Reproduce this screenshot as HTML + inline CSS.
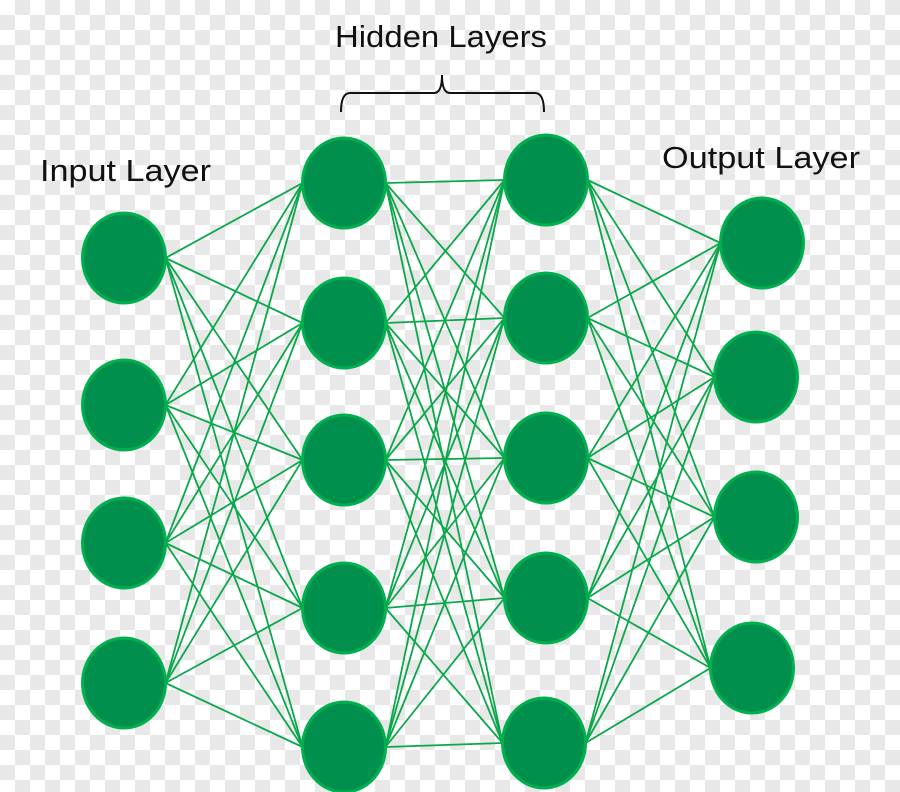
<!DOCTYPE html>
<html><head><meta charset="utf-8"><style>
html,body{margin:0;padding:0}
body{width:900px;height:792px;overflow:hidden;background-color:#fff;
background-image:linear-gradient(45deg,#e8e8e8 25%,transparent 25%,transparent 75%,#e8e8e8 75%),linear-gradient(45deg,#e8e8e8 25%,transparent 25%,transparent 75%,#e8e8e8 75%);
background-size:30px 30px;background-position:0 0,15px 15px}
</style></head><body>
<svg width="900" height="792" xmlns="http://www.w3.org/2000/svg" style="position:absolute;left:0;top:0">
<g id="lines" stroke="#0aa84a" stroke-width="1.8"></g>
<g id="nodes" fill="#008f4c" stroke="#00b04f" stroke-width="3"></g>
<g font-family="Liberation Sans, sans-serif" font-size="31" fill="#111">
<text x="335" y="47" textLength="212" lengthAdjust="spacingAndGlyphs">Hidden Layers</text>
<text x="40" y="181" textLength="171" lengthAdjust="spacingAndGlyphs">Input Layer</text>
<text x="662" y="168" textLength="198" lengthAdjust="spacingAndGlyphs">Output Layer</text>
</g>
<path d="M341,112 Q341,93 350,93 L434,93 Q442,93 442,75 Q442,93 450,93 L535,93 Q544,93 544,112" fill="none" stroke="#111" stroke-width="2"/>
</svg>
<script>
var L=[[[124,258],[124,405],[124,543],[124,683]],
[[344,183],[344,323],[344,460],[344,608],[344,747]],
[[546,180],[546,318],[546,458],[546,598],[544,743]],
[[762,243],[756,377],[756,517],[752,668]]];
var rx=41.5,ry=45,ns="http://www.w3.org/2000/svg";
var lg=document.getElementById('lines'),ng=document.getElementById('nodes');
for(var i=0;i<3;i++)for(var a of L[i])for(var b of L[i+1]){var l=document.createElementNS(ns,'line');
l.setAttribute('x1',a[0]+rx);l.setAttribute('y1',a[1]);l.setAttribute('x2',b[0]-rx);l.setAttribute('y2',b[1]);lg.appendChild(l);}
for(var la of L)for(var p of la){var e=document.createElementNS(ns,'ellipse');
e.setAttribute('cx',p[0]);e.setAttribute('cy',p[1]);e.setAttribute('rx',rx);e.setAttribute('ry',ry);ng.appendChild(e);}
</script>
</body></html>
